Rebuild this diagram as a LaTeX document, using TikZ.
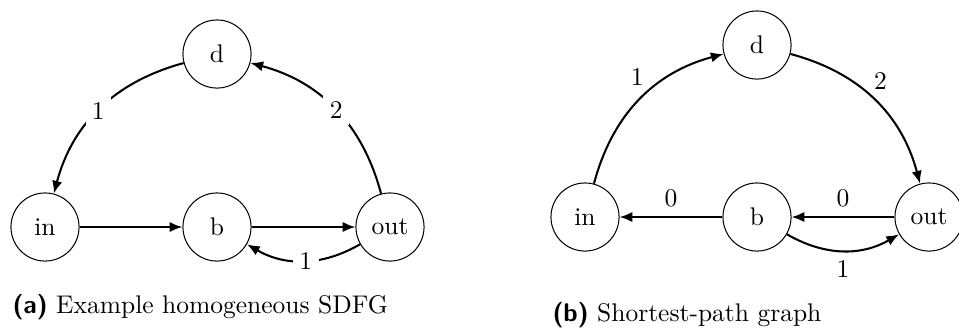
\documentclass[tikz,border=0pt]{standalone}
\usetikzlibrary{arrows.meta}
\begin{document}
\begin{tikzpicture}[x=0.392pt,y=-0.392pt,
  vertex/.style={circle,draw,thin,minimum size=26.7pt,inner sep=0pt},
  edge/.style={thick,-{Latex[length=5pt,width=4pt]}},
  onlab/.style={fill=white,inner sep=2.5pt},
  captext/.style={anchor=west,inner sep=0pt}]
\useasboundingbox (0,0) rectangle (959,329);
% (a)
\node[vertex] (ia) at (45,227) {in};
\node[vertex] (ba) at (217,227) {b};
\node[vertex] (oa) at (390,227) {out};
\node[vertex] (da) at (217,54) {d};
\draw[edge] (ia) -- (ba);
\draw[edge] (ba) -- (oa);
\draw[edge] (oa) to[bend left=30] node[onlab,pos=0.48] {1} (ba);
\draw[edge] (da) to[bend right=30] node[onlab,pos=0.51] {1} (ia);
\draw[edge] (oa) to[bend right=30] node[onlab,pos=0.49] {2} (da);
\node[captext] (capa) at (12,307) {\textsf{\textbf{(a)}} Example homogeneous SDFG};
% (b)
\node[vertex] (ib) at (585,217) {in};
\node[vertex] (bb) at (757,217) {b};
\node[vertex] (ob) at (929,217) {out};
\node[vertex] (db) at (757,45) {d};
\draw[edge] (ib) to[bend left=30] node[above,yshift=3pt,pos=0.48] {1} (db);
\draw[edge] (db) to[bend left=30] node[above,yshift=3pt,pos=0.55] {2} (ob);
\draw[edge] (bb) -- node[above] {0} (ib);
\draw[edge] (ob) -- node[above] {0} (bb);
\draw[edge] (bb) to[bend right=30] node[below] {1} (ob);
\node[captext] (capb) at (552,315) {\textsf{\textbf{(b)}} Shortest-path graph};
\end{tikzpicture}
\end{document}
